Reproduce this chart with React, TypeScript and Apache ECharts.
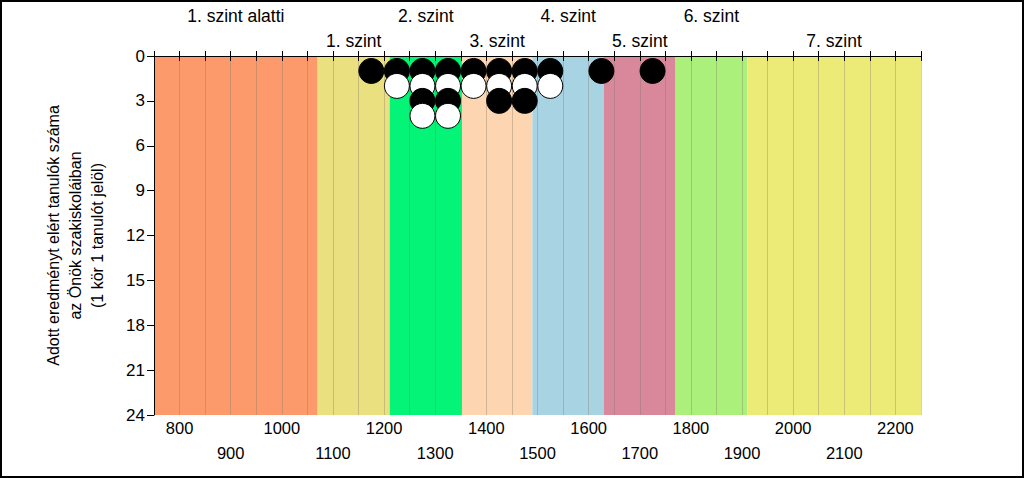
import React, { useEffect, useRef } from "react";
import * as echarts from "echarts";

const xMin = 750;
const xMax = 2250;
const xStep = 50;
const yMax = 24;
const yStep = 3;

const bandEdges = [750, 1070, 1211, 1352, 1490, 1630, 1770, 1910, 2250];
const bandNames = [
  "1. szint alatti",
  "1. szint",
  "2. szint",
  "3. szint",
  "4. szint",
  "5. szint",
  "6. szint",
  "7. szint",
];
const bandColors = [
  "#FD9A6C",
  "#EBE080",
  "#03F476",
  "#FDD5B0",
  "#A8D3E3",
  "#D9889B",
  "#AAF07A",
  "#EDEB78",
];

const binCenters = [1175, 1225, 1275, 1325, 1375, 1425, 1475, 1525, 1625, 1725];
const binCounts = [1, 2, 4, 4, 2, 3, 3, 2, 1, 1];

const yTitle = "Adott eredményt elért tanulók száma\naz Önök szakiskoláiban\n(1 kör 1 tanulót jelöl)";

const FONT = "'Liberation Sans', Arial, sans-serif";

export default function App() {
  const ref = useRef<HTMLDivElement>(null);

  useEffect(() => {
    if (!ref.current) return;
    const chart = echarts.init(ref.current, null, { renderer: "svg" });

    const dots: any[] = [];
    binCenters.forEach((x, i) => {
      for (let k = 1; k <= binCounts[i]; k++) {
        dots.push({
          value: [x, k],
          itemStyle: { color: k % 2 === 1 ? "#000000" : "#FFFFFF" },
        });
      }
    });

    const areas = bandNames.map((name, i) => [
      {
        name,
        xAxis: bandEdges[i],
        itemStyle: { color: bandColors[i], opacity: 1 },
        label: {
          show: true,
          position: "top",
          distance: i % 2 === 0 ? 31 : 6,
          color: "#000",
          fontSize: 17.5,
          fontFamily: FONT,
        },
      },
      { xAxis: bandEdges[i + 1] },
    ]);

    const axisCommon = {
      type: "value",
      min: xMin,
      max: xMax,
      interval: xStep,
      z: 2,
      axisLine: { show: true, lineStyle: { color: "#000", width: 1 } },
      axisTick: { show: true, length: 5, lineStyle: { color: "#000" } },
    };

    chart.setOption({
      animation: false,
      backgroundColor: "#FFFFFF",
      textStyle: { fontFamily: FONT },
      grid: { left: 154, right: 103, top: 56, bottom: 63 },
      graphic: [
        {
          type: "rect",
          shape: { x: 1, y: 1, width: 1022, height: 476 },
          style: { fill: "none", stroke: "#000", lineWidth: 2 },
          silent: true,
        },
      ],
      xAxis: [
        {
          ...axisCommon,
          position: "bottom",
          splitLine: {
            show: true,
            lineStyle: { color: "rgba(130,120,100,0.35)", width: 1 },
          },
          axisLabel: {
            show: true,
            color: "#000",
            fontSize: 16.5,
            fontFamily: FONT,
            margin: 0,
            lineHeight: 25.5,
            showMinLabel: true,
            showMaxLabel: true,
            formatter: (v: number) => {
              if (v % 100 !== 0) return "";
              return (v / 100) % 2 === 0 ? `${v}` : `\n${v}`;
            },
          },
        },
        {
          ...axisCommon,
          position: "top",
          splitLine: { show: false },
          axisLabel: { show: false },
        },
      ],
      yAxis: {
        type: "value",
        inverse: true,
        min: 0,
        max: yMax,
        interval: yStep,
        z: 2,
        axisLine: { show: true, lineStyle: { color: "#000" } },
        axisTick: { show: true, length: 7, lineStyle: { color: "#000" } },
        splitLine: { show: false },
        axisLabel: { color: "#000", fontSize: 17, fontFamily: FONT, margin: 9 },
        name: yTitle,
        nameLocation: "middle",
        nameRotate: 90,
        nameGap: 46,
        nameTextStyle: {
          color: "#000",
          fontSize: 16,
          fontFamily: FONT,
          lineHeight: 22,
          align: "center",
        },
      },
      series: [
        {
          type: "scatter",
          z: 0,
          data: [],
          markArea: { silent: true, z: 0, data: areas },
        },
        {
          type: "scatter",
          z: 3,
          symbol: "circle",
          symbolSize: 25,
          itemStyle: { borderColor: "#000", borderWidth: 1, opacity: 1 },
          data: dots,
        },
      ],
    });

    return () => chart.dispose();
  }, []);

  return (
    <div
      ref={ref}
      style={{ position: "absolute", left: 0, top: 0, width: 1024, height: 478 }}
    />
  );
}
